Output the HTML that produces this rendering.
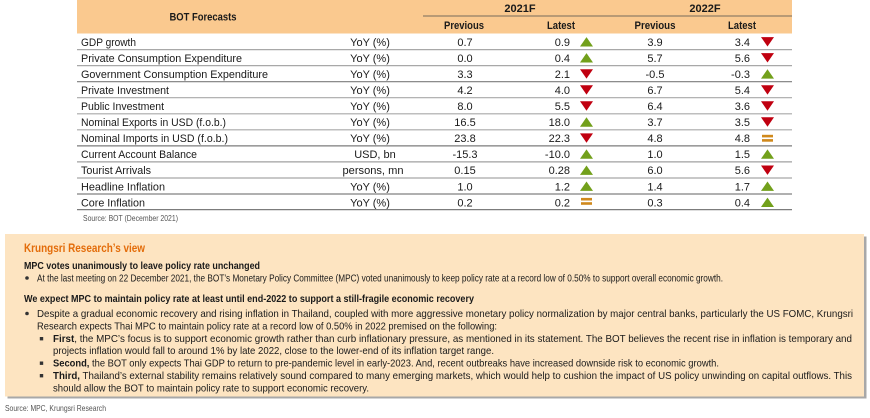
<!DOCTYPE html>
<html>
<head>
<meta charset="utf-8">
<style>
html,body{margin:0;padding:0;background:#ffffff;}
svg{display:block;}
text{font-family:"Liberation Sans",Arial,sans-serif;}
</style>
</head>
<body>
<svg width="870" height="418" viewBox="0 0 870 418" xmlns="http://www.w3.org/2000/svg">
  <!-- Table header band -->
  <rect x="77" y="0" width="715" height="33.5" fill="#fac98f"/>
  <line x1="423" y1="16" x2="792" y2="16" stroke="#4a4a4a" stroke-width="0.8"/>
  <g font-weight="bold" font-size="11" fill="#1a1a1a" text-anchor="middle">
    <text x="203" y="20.5" textLength="67" lengthAdjust="spacingAndGlyphs">BOT Forecasts</text>
    <text x="520" y="12">2021F</text>
    <text x="705" y="12">2022F</text>
    <text x="464" y="29" textLength="40" lengthAdjust="spacingAndGlyphs">Previous</text>
    <text x="561" y="29" textLength="28" lengthAdjust="spacingAndGlyphs">Latest</text>
    <text x="655" y="29" textLength="41" lengthAdjust="spacingAndGlyphs">Previous</text>
    <text x="742" y="29" textLength="28" lengthAdjust="spacingAndGlyphs">Latest</text>
  </g>

  <!-- Row separator lines -->
  <g stroke-width="1.2">
    <line x1="77" x2="792" y1="49.6" y2="49.6" stroke="#a8a8a8"/>
    <line x1="77" x2="792" y1="65.6" y2="65.6" stroke="#a8a8a8"/>
    <line x1="77" x2="792" y1="81.7" y2="81.7" stroke="#7c7c7c"/>
    <line x1="77" x2="792" y1="97.7" y2="97.7" stroke="#a8a8a8"/>
    <line x1="77" x2="792" y1="113.8" y2="113.8" stroke="#a8a8a8"/>
    <line x1="77" x2="792" y1="129.8" y2="129.8" stroke="#a8a8a8"/>
    <line x1="77" x2="792" y1="145.9" y2="145.9" stroke="#7c7c7c"/>
    <line x1="77" x2="792" y1="161.9" y2="161.9" stroke="#a0a0a0"/>
    <line x1="77" x2="792" y1="178" y2="178" stroke="#a8a8a8"/>
    <line x1="77" x2="792" y1="194" y2="194" stroke="#808080"/>
    <line x1="77" x2="792" y1="209.6" y2="209.6" stroke="#7c7c7c"/>
  </g>

  <!-- Labels -->
  <g font-size="11" fill="#1a1a1a">
    <text x="81" y="45.8" textLength="55" lengthAdjust="spacingAndGlyphs">GDP growth</text>
    <text x="81" y="61.9" textLength="161" lengthAdjust="spacingAndGlyphs">Private Consumption Expenditure</text>
    <text x="81" y="77.9" textLength="187" lengthAdjust="spacingAndGlyphs">Government Consumption Expenditure</text>
    <text x="81" y="94" textLength="88" lengthAdjust="spacingAndGlyphs">Private Investment</text>
    <text x="81" y="110" textLength="83" lengthAdjust="spacingAndGlyphs">Public Investment</text>
    <text x="81" y="126" textLength="145" lengthAdjust="spacingAndGlyphs">Nominal Exports in USD (f.o.b.)</text>
    <text x="81" y="142.1" textLength="147" lengthAdjust="spacingAndGlyphs">Nominal Imports in USD (f.o.b.)</text>
    <text x="81" y="158.2" textLength="116" lengthAdjust="spacingAndGlyphs">Current Account Balance</text>
    <text x="81" y="174.2" textLength="70" lengthAdjust="spacingAndGlyphs">Tourist Arrivals</text>
    <text x="81" y="190.3" textLength="84" lengthAdjust="spacingAndGlyphs">Headline Inflation</text>
    <text x="81" y="206.3" textLength="64" lengthAdjust="spacingAndGlyphs">Core Inflation</text>
  </g>

  <!-- Units -->
  <g font-size="11" fill="#1a1a1a" text-anchor="middle">
    <text x="370" y="45.8">YoY (%)</text>
    <text x="370" y="61.9">YoY (%)</text>
    <text x="370" y="77.9">YoY (%)</text>
    <text x="370" y="94">YoY (%)</text>
    <text x="370" y="110">YoY (%)</text>
    <text x="370" y="126">YoY (%)</text>
    <text x="370" y="142.1">YoY (%)</text>
    <text x="375" y="158.2">USD, bn</text>
    <text x="373" y="174.2" textLength="61" lengthAdjust="spacingAndGlyphs">persons, mn</text>
    <text x="370" y="190.3">YoY (%)</text>
    <text x="370" y="206.3">YoY (%)</text>
  </g>

  <!-- 2021F Previous -->
  <g font-size="11" fill="#1a1a1a" text-anchor="middle">
    <text x="465" y="45.8">0.7</text>
    <text x="465" y="61.9">0.0</text>
    <text x="465" y="77.9">3.3</text>
    <text x="465" y="94">4.2</text>
    <text x="465" y="110">8.0</text>
    <text x="465" y="126">16.5</text>
    <text x="465" y="142.1">23.8</text>
    <text x="465" y="158.2">-15.3</text>
    <text x="465" y="174.2">0.15</text>
    <text x="465" y="190.3">1.0</text>
    <text x="465" y="206.3">0.2</text>
  </g>
  <!-- 2021F Latest -->
  <g font-size="11" fill="#1a1a1a" text-anchor="end">
    <text x="570" y="45.8">0.9</text>
    <text x="570" y="61.9">0.4</text>
    <text x="570" y="77.9">2.1</text>
    <text x="570" y="94">4.0</text>
    <text x="570" y="110">5.5</text>
    <text x="570" y="126">18.0</text>
    <text x="570" y="142.1">22.3</text>
    <text x="570" y="158.2">-10.0</text>
    <text x="570" y="174.2">0.28</text>
    <text x="570" y="190.3">1.2</text>
    <text x="570" y="206.3">0.2</text>
  </g>
  <!-- 2022F Previous -->
  <g font-size="11" fill="#1a1a1a" text-anchor="middle">
    <text x="655" y="45.8">3.9</text>
    <text x="655" y="61.9">5.7</text>
    <text x="655" y="77.9">-0.5</text>
    <text x="655" y="94">6.7</text>
    <text x="655" y="110">6.4</text>
    <text x="655" y="126">3.7</text>
    <text x="655" y="142.1">4.8</text>
    <text x="655" y="158.2">1.0</text>
    <text x="655" y="174.2">6.0</text>
    <text x="655" y="190.3">1.4</text>
    <text x="655" y="206.3">0.3</text>
  </g>
  <!-- 2022F Latest -->
  <g font-size="11" fill="#1a1a1a" text-anchor="end">
    <text x="750" y="45.8">3.4</text>
    <text x="750" y="61.9">5.6</text>
    <text x="750" y="77.9">-0.3</text>
    <text x="750" y="94">5.4</text>
    <text x="750" y="110">3.6</text>
    <text x="750" y="126">3.5</text>
    <text x="750" y="142.1">4.8</text>
    <text x="750" y="158.2">1.5</text>
    <text x="750" y="174.2">5.6</text>
    <text x="750" y="190.3">1.7</text>
    <text x="750" y="206.3">0.4</text>
  </g>

  <!-- 2021F arrows (cx=586.5) -->
  <g>
    <polygon points="580,46.5 593,46.5 586.5,37.1" fill="#72a01b"/>
    <polygon points="580,62.5 593,62.5 586.5,53.1" fill="#72a01b"/>
    <polygon points="580,69.2 593,69.2 586.5,78.6" fill="#c00010"/>
    <polygon points="580,85.2 593,85.2 586.5,94.6" fill="#c00010"/>
    <polygon points="580,101.3 593,101.3 586.5,110.7" fill="#c00010"/>
    <polygon points="580,126.7 593,126.7 586.5,117.3" fill="#72a01b"/>
    <polygon points="580,133.4 593,133.4 586.5,142.8" fill="#c00010"/>
    <polygon points="580,158.8 593,158.8 586.5,149.4" fill="#72a01b"/>
    <polygon points="580,174.9 593,174.9 586.5,165.5" fill="#72a01b"/>
    <polygon points="580,190.9 593,190.9 586.5,181.5" fill="#72a01b"/>
    <rect x="581" y="197.9" width="11" height="2.6" fill="#d0891c"/>
    <rect x="581" y="202.2" width="11" height="2.6" fill="#d0891c"/>
  </g>
  <!-- 2022F arrows (cx=767.5) -->
  <g>
    <polygon points="761,37.1 774,37.1 767.5,46.5" fill="#c00010"/>
    <polygon points="761,53.1 774,53.1 767.5,62.5" fill="#c00010"/>
    <polygon points="761,78.6 774,78.6 767.5,69.2" fill="#72a01b"/>
    <polygon points="761,85.2 774,85.2 767.5,94.6" fill="#c00010"/>
    <polygon points="761,101.3 774,101.3 767.5,110.7" fill="#c00010"/>
    <polygon points="761,117.3 774,117.3 767.5,126.7" fill="#c00010"/>
    <rect x="762" y="134.8" width="11" height="2.6" fill="#d0891c"/>
    <rect x="762" y="139.1" width="11" height="2.6" fill="#d0891c"/>
    <polygon points="761,158.8 774,158.8 767.5,149.4" fill="#72a01b"/>
    <polygon points="761,165.5 774,165.5 767.5,174.9" fill="#c00010"/>
    <polygon points="761,190.9 774,190.9 767.5,181.5" fill="#72a01b"/>
    <polygon points="761,207 774,207 767.5,197.6" fill="#72a01b"/>
  </g>

  <text x="83" y="221" font-size="8" fill="#555555" textLength="95" lengthAdjust="spacingAndGlyphs">Source: BOT (December 2021)</text>

  <!-- Research view box -->
  <rect x="7.5" y="236.5" width="859" height="162" fill="#a8a8a8"/>
  <rect x="5" y="234" width="859" height="162.5" fill="#fde4c1"/>

  <text x="24" y="252" font-size="12" font-weight="bold" fill="#e36c0a" textLength="121" lengthAdjust="spacingAndGlyphs">Krungsri Research’s view</text>
  <g font-size="10.5" fill="#1a1a1a">
    <text x="24" y="269" font-weight="bold" textLength="236" lengthAdjust="spacingAndGlyphs">MPC votes unanimously to leave policy rate unchanged</text>
    <circle cx="27" cy="278" r="1.8" fill="#333"/>
    <text x="37" y="281.5" textLength="686" lengthAdjust="spacingAndGlyphs">At the last meeting on 22 December 2021, the BOT’s Monetary Policy Committee (MPC) voted unanimously to keep policy rate at a record low of 0.50% to support overall economic growth.</text>
    <text x="24" y="302" font-weight="bold" textLength="450" lengthAdjust="spacingAndGlyphs">We expect MPC to maintain policy rate at least until end-2022 to support a still-fragile economic recovery</text>
    <circle cx="27" cy="313.5" r="1.8" fill="#333"/>
    <text x="37" y="317" textLength="816" lengthAdjust="spacingAndGlyphs">Despite a gradual economic recovery and rising inflation in Thailand, coupled with more aggressive monetary policy normalization by major central banks, particularly the US FOMC, Krungsri</text>
    <text x="37" y="329.5" textLength="460" lengthAdjust="spacingAndGlyphs">Research expects Thai MPC to maintain policy rate at a record low of 0.50% in 2022 premised on the following:</text>
    <rect x="39.8" y="337" width="3.4" height="3.4" fill="#333"/>
    <text x="53" y="342" textLength="799" lengthAdjust="spacingAndGlyphs"><tspan font-weight="bold">First</tspan>, the MPC’s focus is to support economic growth rather than curb inflationary pressure, as mentioned in its statement. The BOT believes the recent rise in inflation is temporary and</text>
    <text x="53" y="354" textLength="441" lengthAdjust="spacingAndGlyphs">projects inflation would fall to around 1% by late 2022, close to the lower-end of its inflation target range.</text>
    <rect x="39.8" y="361.5" width="3.4" height="3.4" fill="#333"/>
    <text x="53" y="366.5" textLength="666" lengthAdjust="spacingAndGlyphs"><tspan font-weight="bold">Second,</tspan> the BOT only expects Thai GDP to return to pre-pandemic level in early-2023. And, recent outbreaks have increased downside risk to economic growth.</text>
    <rect x="39.8" y="374" width="3.4" height="3.4" fill="#333"/>
    <text x="53" y="379" textLength="799" lengthAdjust="spacingAndGlyphs"><tspan font-weight="bold">Third,</tspan> Thailand’s external stability remains relatively sound compared to many emerging markets, which would help to cushion the impact of US policy unwinding on capital outflows. This</text>
    <text x="53" y="391.5" textLength="316" lengthAdjust="spacingAndGlyphs">should allow the BOT to maintain policy rate to support economic recovery.</text>
  </g>

  <text x="5" y="411" font-size="8.5" fill="#555555" textLength="101" lengthAdjust="spacingAndGlyphs">Source: MPC, Krungsri Research</text>
</svg>
</body>
</html>
